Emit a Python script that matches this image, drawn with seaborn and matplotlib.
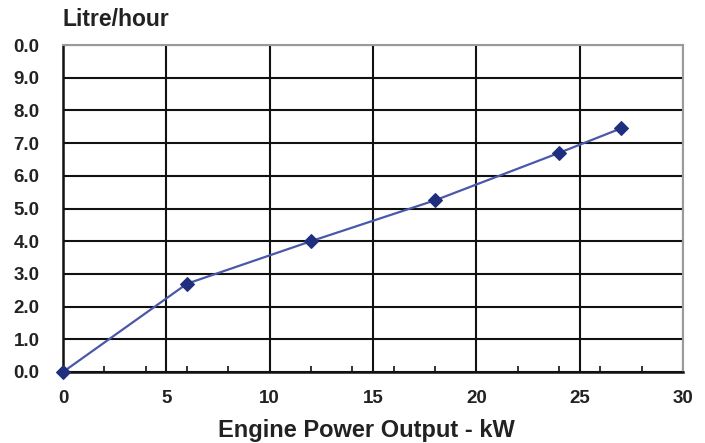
import matplotlib
matplotlib.use('Agg')
import matplotlib.pyplot as plt
import seaborn as sns
import pandas as pd
from matplotlib.ticker import MultipleLocator

# Datos
potencia_kw = [0, 6, 12, 18, 24, 27]
consumo_lh = [0.0, 2.7, 4.0, 5.25, 6.7, 7.45]
x_ticks = [0, 5, 10, 15, 20, 25, 30]
y_ticks = [0, 1, 2, 3, 4, 5, 6, 7, 8, 9, 10]
y_tick_labels = ['0.0', '1.0', '2.0', '3.0', '4.0', '5.0', '6.0', '7.0', '8.0', '9.0', '0.0']

sns.set_theme(style='white')
plt.rcParams['font.family'] = ['Liberation Sans', 'DejaVu Sans']

df = pd.DataFrame({'kW': potencia_kw, 'Litre/hour': consumo_lh})

fig = plt.figure(figsize=(7.05, 4.43), dpi=100)
ax = fig.add_axes([63 / 705, 1 - 372 / 443, 620 / 705, 327 / 443])

sns.lineplot(data=df, x='kW', y='Litre/hour', ax=ax, color='#4a58aa', linewidth=1.6,
             marker='D', markersize=7.5, markerfacecolor='#1f2f7e',
             markeredgecolor='#1f2f7e', zorder=5, clip_on=False)

ax.set_xlim(0, 30)
ax.set_ylim(0, 10)
ax.set_xticks(x_ticks)
ax.set_yticks(y_ticks)
ax.set_yticklabels(y_tick_labels)
ax.xaxis.set_minor_locator(MultipleLocator(2))

ax.grid(True, which='major', color='#111111', linewidth=1.5)
ax.tick_params(axis='both', which='major', length=0, labelsize=13.5, labelcolor='#222222')
ax.tick_params(axis='x', which='major', pad=13)
ax.tick_params(axis='y', which='major', pad=17)
ax.tick_params(axis='x', which='minor', direction='in', length=4, width=1.2,
               color='#111111', bottom=True)
for lbl in ax.get_xticklabels() + ax.get_yticklabels():
    lbl.set_fontweight('bold')

for side in ['left', 'bottom']:
    ax.spines[side].set_color('#111111')
    ax.spines[side].set_linewidth(1.8)
for side in ['top', 'right']:
    ax.spines[side].set_color('#9a9a9a')
    ax.spines[side].set_linewidth(1.5)

ax.set_xlabel('')
ax.set_ylabel('')
fig.text(62 / 705, 1 - 20 / 443, 'Litre/hour', fontsize=16.5, fontweight='bold',
         color='#222222', ha='left', va='center')
fig.text(366 / 705, 1 - 431 / 443, 'Engine Power Output - kW', fontsize=17,
         fontweight='bold', color='#222222', ha='center', va='center')

fig.savefig('out.png', dpi=100)
